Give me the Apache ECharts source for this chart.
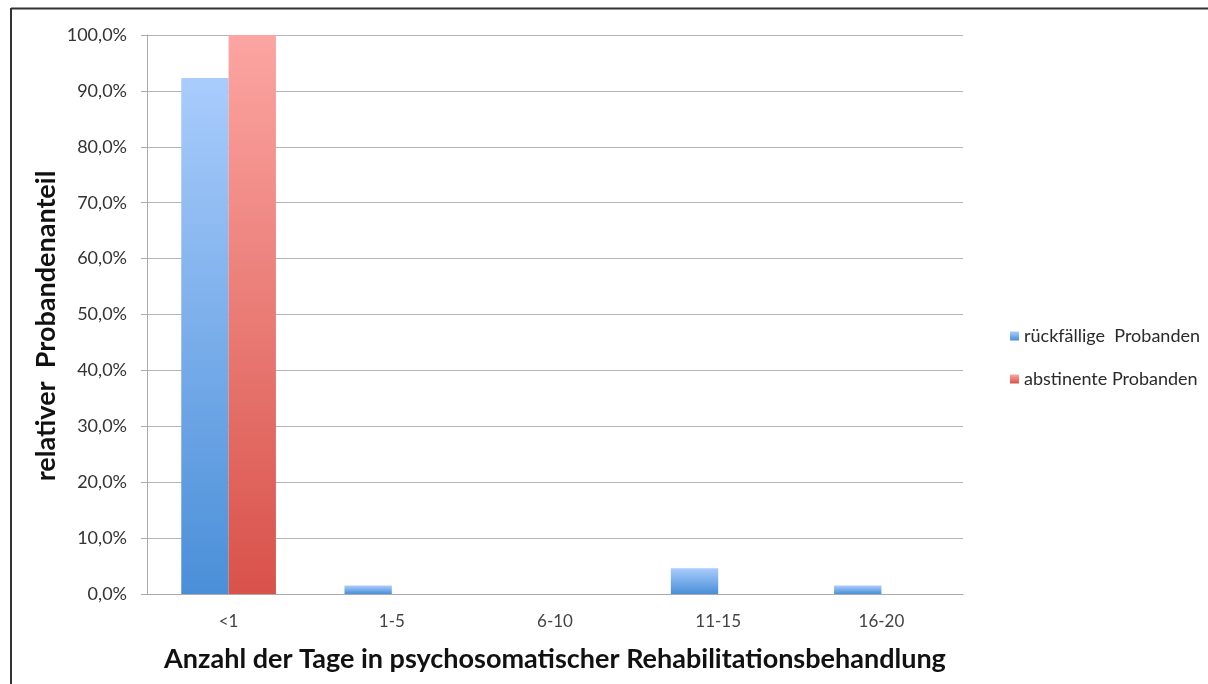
<!DOCTYPE html>
<html><head><meta charset="utf-8">
<script src="https://cdn.jsdelivr.net/npm/echarts@6/dist/echarts.min.js"></script>
<style>html,body{margin:0;padding:0;background:#fff}#c{width:1208px;height:684px}</style>
</head><body><div id="c"></div>
<script>
const categories = ['<1', '1-5', '6-10', '11-15', '16-20'];
const rueckfaellig = [92.3, 1.5, 0, 4.6, 1.5];
const abstinent = [100, 0, 0, 0, 0];
const seriesNames = ['rückfällige  Probanden', 'abstinente Probanden'];
const yTitle = 'relativer  Probandenanteil';
const xTitle = 'Anzahl der Tage in psychosomatischer Rehabilitationsbehandlung';

const chart = echarts.init(document.getElementById('c'), null, {renderer: 'canvas'});
const grad = (top, bottom) => new echarts.graphic.LinearGradient(0, 0, 0, 1, [{offset: 0, color: top}, {offset: 1, color: bottom}]);
const fontFam = 'Lato, "Open Sans", sans-serif';
chart.setOption({
  animation: false,
  graphic: [
    {type: 'line', shape: {x1: 11, y1: 8.5, x2: 1208, y2: 8.5}, style: {stroke: '#333', lineWidth: 2}},
    {type: 'line', shape: {x1: 11, y1: 8, x2: 11, y2: 684}, style: {stroke: '#333', lineWidth: 2}},
    {type: 'text', x: 46, y: 326, rotation: Math.PI / 2,
     style: {text: yTitle, align: 'center', verticalAlign: 'middle',
             font: 'bold 27px Lato, "Open Sans", sans-serif', fill: '#111'}}
  ],
  grid: {left: 147, right: 245, top: 35, bottom: 90, containLabel: false},
  legend: {
    orient: 'vertical', left: 1005, top: 322, itemGap: 25, itemWidth: 9, itemHeight: 9,
    icon: 'rect', data: seriesNames,
    textStyle: {fontFamily: fontFam, fontSize: 18, color: '#2a2a2a'}
  },
  xAxis: {
    type: 'category', data: categories,
    name: xTitle,
    nameLocation: 'middle', nameGap: 52,
    nameTextStyle: {fontFamily: fontFam, fontSize: 27, fontWeight: 'bold', color: '#111'},
    axisLine: {lineStyle: {color: '#aaa', width: 1}},
    axisTick: {show: false},
    axisLabel: {fontFamily: fontFam, fontSize: 17, color: '#444', margin: 19}
  },
  yAxis: {
    type: 'value', min: 0, max: 100, interval: 10,
    axisLine: {show: true, lineStyle: {color: '#aaa'}},
    axisTick: {show: true, length: 6, inside: false, lineStyle: {color: '#aaa'}},
    axisLabel: {fontFamily: fontFam, fontSize: 18, color: '#333', margin: 20,
      formatter: v => v.toFixed(1).replace('.', ',') + '%'},
    splitLine: {lineStyle: {color: '#b5b5b5', width: 1}}
  },
  series: [
    {name: seriesNames[0], type: 'bar', data: rueckfaellig, barWidth: '29%', barGap: '0%',
     itemStyle: {color: grad('#a9ccfc', '#4a8fd8')}},
    {name: seriesNames[1], type: 'bar', data: abstinent, barWidth: '29%', barGap: '0%',
     itemStyle: {color: grad('#fca5a2', '#d8524a')}}
  ]
});
</script></body></html>
